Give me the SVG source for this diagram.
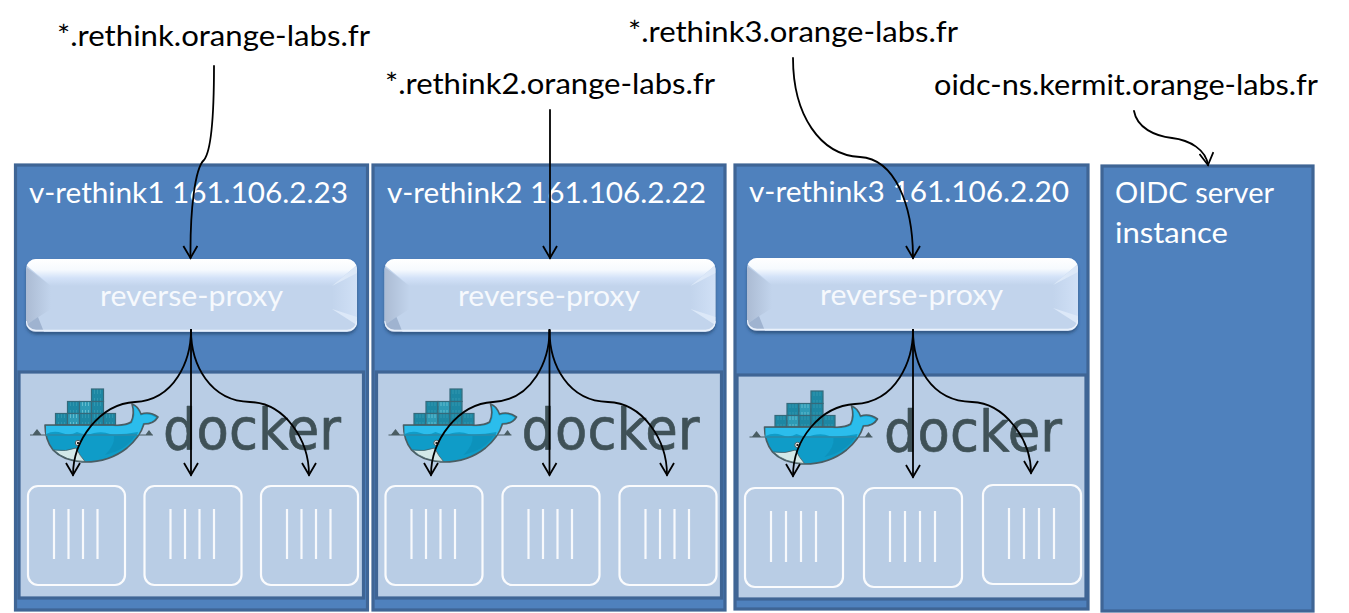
<svg xmlns="http://www.w3.org/2000/svg" width="1349" height="613" viewBox="0 0 1349 613">
<style>
text{font-family:Lato,"Open Sans","Liberation Sans",sans-serif}
.lbl{font-size:29px;fill:#000}
.ttl{font-size:29px;fill:#fff}
.rp{font-size:29px;fill:#f6f9fd}
.panel{fill:#4f81bd;stroke:#3f6595;stroke-width:3.2}
.inner{fill:#b9cde5;stroke:#3f6595;stroke-width:3.2}
.box{fill:none;stroke:#fff;stroke-width:2.2;opacity:.92}
.bar{stroke:#fff;stroke-width:2.2;opacity:.88;fill:none}
.wm{font-family:"DejaVu Sans",sans-serif;font-size:57px;fill:#3f5157;stroke:#3f5157;stroke-width:.7;stroke-linejoin:round}
.c{fill:url(#cont);stroke:#35697a;stroke-width:1.2}
.cl{fill:url(#contl);stroke:#35697a;stroke-width:1.2}
.conn{fill:none;stroke:#000;stroke-width:1.8;stroke-linecap:round}
</style>
<defs>
<pattern id="cont" width="3" height="12" patternUnits="userSpaceOnUse"><rect width="3" height="12" fill="#1d87a3"/><rect x="1" y="2" width="1" height="8" fill="#3096ae"/></pattern>
<pattern id="contl" width="3" height="12" patternUnits="userSpaceOnUse"><rect width="3" height="12" fill="#2e9bb6"/><rect x="1" y="2" width="1" height="8" fill="#62bccf"/></pattern>
<linearGradient id="top" x1="0" y1="0" x2="0" y2="1"><stop offset="0" stop-color="#fff"/><stop offset=".4" stop-color="#f6fafe"/><stop offset=".7" stop-color="#d3e2f8"/><stop offset="1" stop-color="#c2d4ec"/></linearGradient>
<linearGradient id="lft" x1="0" y1="0" x2="1" y2="0"><stop offset="0" stop-color="#abbbd3"/><stop offset="1" stop-color="#c2d4ec"/></linearGradient>
<linearGradient id="rgt" x1="0" y1="0" x2="1" y2="0"><stop offset="0" stop-color="#c2d4ec"/><stop offset="1" stop-color="#d0e0f6"/></linearGradient>
<filter id="sh" x="-3%" y="-10%" width="106%" height="125%"><feDropShadow dx="0" dy="2.500" stdDeviation="1.600" flood-color="#1f3a60" flood-opacity=".6"/></filter>
<clipPath id="bclip"><rect width="331" height="73" rx="10"/></clipPath>
<marker id="arr" viewBox="0 0 16 16" refX="14" refY="8" markerWidth="16" markerHeight="16" markerUnits="userSpaceOnUse" orient="auto"><path d="M2,1 L14,8 L2,15" fill="none" stroke="#000" stroke-width="1.8"/></marker>
<g id="button">
<rect width="331" height="73" rx="10" fill="#c2d4ec" filter="url(#sh)"/>
<g clip-path="url(#bclip)">
<path d="M0,8L25,27V50L0,66Z" fill="url(#lft)"/>
<path d="M331,8L306,27V50L331,66Z" fill="url(#rgt)"/>
<path d="M0,0H331V6L306,27H25L0,6Z" fill="url(#top)"/>
<path d="M331,6L306,27L331,14Z" fill="#dce8f8"/>
<path d="M331,66L306,50L331,58Z" fill="#dce8f8"/>
<path d="M0,66L12,58L18,73H0Z" fill="#9fb3d0"/>
<path d="M0,62Q1,71 10,71.500H321Q330,71 331,62" fill="none" stroke="#eaf1fb" stroke-width="1.600"/>
</g>
</g>
<g id="whale">
<path d="M30,435H46M139,435H153M33,435L37,430L41,435M146,435L149,431L152,435" fill="#4a5d63" stroke="#4a5d63" stroke-width="1.200"/>
<rect class="c" x="91.500" y="389" width="12" height="12.500"/>
<rect class="c" x="67.500" y="401.500" width="12" height="12"/><rect class="cl" x="79.500" y="401.500" width="12" height="12"/><rect class="c" x="91.500" y="401.500" width="12" height="12"/>
<rect class="c" x="55.500" y="413.500" width="12" height="11.500"/><rect class="cl" x="67.500" y="413.500" width="12" height="11.500"/><rect class="c" x="79.500" y="413.500" width="12" height="11.500"/><rect class="c" x="91.500" y="413.500" width="12" height="11.500"/><rect class="c" x="103.500" y="413.500" width="12" height="11.500"/>
<path d="M45,425H113Q125,426 131,422Q135,414 132,404Q138,406 141,414Q150,411 158,417Q154,424 144,424Q140,437 127,448Q108,463 82,462Q62,460 53,450Q45,440 45,425Z" fill="#0f9cc8" stroke="#4a5d63" stroke-width="1.600" stroke-linejoin="round"/>
<path d="M46,426H113Q125,427 132,423Q136,415 133.500,406Q138,408 140.500,415.500Q149,412.500 156,417.500Q153,423 143,423Q141,430 138,435H46Z" fill="#2bbdec"/>
<path d="M46,434Q54,430 62,433Q70,436 77,432Q86,436 94,433Q103,431 110,434Q122,435 138,432L137,436H46Z" fill="#0f9cc8"/>
<path d="M46,435H137" fill="none" stroke="#3a7f96" stroke-width="1"/>
<path d="M66,436H135Q126,450 105,455Q115,445 114,436Z" fill="#0b8ab3" opacity=".55"/>
<path d="M54,450Q66,452 76,448Q80,456 85,461.500Q65,461 54,450Z" fill="#d3e8e8" stroke="#4a5d63" stroke-width=".8"/>
<circle cx="78" cy="443" r="2.700" fill="#fff" stroke="#4a5d63" stroke-width="1"/><circle cx="78" cy="443" r="1.200" fill="#222"/>
</g>
</defs>

<g id="panel1">
<rect class="panel" x="15.500" y="165" width="352" height="445"/>
<rect class="inner" x="19" y="372" width="344.500" height="226"/>
<text class="ttl" x="29" y="203" textLength="319" lengthAdjust="spacingAndGlyphs">v-rethink1 161.106.2.23</text>
<use href="#button" x="26" y="259"/>
<text class="rp" x="100" y="306" textLength="183" lengthAdjust="spacingAndGlyphs">reverse-proxy</text>
<use href="#whale"/>
<text class="wm" x="163" y="449" textLength="178" lengthAdjust="spacingAndGlyphs">docker</text>
<rect class="box" x="28" y="486" width="97" height="99" rx="10"/>
<path class="bar" d="M54,509V559M68.500,509V559M83,509V559M97.500,509V559"/>
<rect class="box" x="144.500" y="486" width="97" height="99" rx="10"/>
<path class="bar" d="M170.500,509V559M185,509V559M199.500,509V559M214,509V559"/>
<rect class="box" x="261" y="486" width="97" height="99" rx="10"/>
<path class="bar" d="M287,509V559M301.500,509V559M316,509V559M330.500,509V559"/>
</g>

<g id="panel2">
<rect class="panel" x="373" y="165" width="352" height="445"/>
<rect class="inner" x="376.500" y="372" width="345" height="226"/>
<text class="ttl" x="387" y="203" textLength="319" lengthAdjust="spacingAndGlyphs">v-rethink2 161.106.2.22</text>
<use href="#button" x="384.500" y="259"/>
<text class="rp" x="458" y="306" textLength="182" lengthAdjust="spacingAndGlyphs">reverse-proxy</text>
<use href="#whale" x="358.500"/>
<text class="wm" x="521.500" y="449" textLength="178" lengthAdjust="spacingAndGlyphs">docker</text>
<rect class="box" x="385.500" y="486" width="97" height="99" rx="10"/>
<path class="bar" d="M411.500,509V559M426,509V559M440.500,509V559M455,509V559"/>
<rect class="box" x="502.500" y="486" width="97" height="99" rx="10"/>
<path class="bar" d="M528.500,509V559M543,509V559M557.500,509V559M572,509V559"/>
<rect class="box" x="619.500" y="486" width="97" height="99" rx="10"/>
<path class="bar" d="M645.500,509V559M660,509V559M674.500,509V559M689,509V559"/>
</g>

<g id="panel3">
<rect class="panel" x="735" y="165" width="353" height="444"/>
<rect class="inner" x="737" y="375" width="349" height="224"/>
<text class="ttl" x="749" y="202" textLength="320" lengthAdjust="spacingAndGlyphs">v-rethink3 161.106.2.20</text>
<use href="#button" x="747" y="258"/>
<text class="rp" x="820" y="305" textLength="183" lengthAdjust="spacingAndGlyphs">reverse-proxy</text>
<use href="#whale" x="719.500" y="2"/>
<text class="wm" x="884" y="451" textLength="178" lengthAdjust="spacingAndGlyphs">docker</text>
<rect class="box" x="745" y="488" width="98" height="99" rx="10"/>
<path class="bar" d="M771,511V562M786,511V562M801,511V562M816,511V562"/>
<rect class="box" x="864" y="488" width="98" height="99" rx="10"/>
<path class="bar" d="M890,511V562M905,511V562M920,511V562M935,511V562"/>
<rect class="box" x="983" y="485" width="98" height="99" rx="10"/>
<path class="bar" d="M1009,508V559M1024,508V559M1039,508V559M1054,508V559"/>
</g>

<g id="panel4">
<rect class="panel" x="1102" y="166" width="211" height="445"/>
<text class="ttl" x="1115" y="203" textLength="159" lengthAdjust="spacingAndGlyphs">OIDC server</text>
<text class="ttl" x="1115" y="243" textLength="113" lengthAdjust="spacingAndGlyphs">instance</text>
</g>

<g id="labels">
<text class="lbl" x="57" y="46" textLength="313" lengthAdjust="spacingAndGlyphs">*.rethink.orange-labs.fr</text>
<text class="lbl" x="385" y="94" textLength="330" lengthAdjust="spacingAndGlyphs">*.rethink2.orange-labs.fr</text>
<text class="lbl" x="628" y="42" textLength="330" lengthAdjust="spacingAndGlyphs">*.rethink3.orange-labs.fr</text>
<text class="lbl" x="934" y="95" textLength="384" lengthAdjust="spacingAndGlyphs">oidc-ns.kermit.orange-labs.fr</text>
</g>

<g id="connectors" class="conn">
<path marker-end="url(#arr)" d="M214,66C214,110 212,150 204,160C195,168 190,210 190.500,258"/>
<path marker-end="url(#arr)" d="M550,110V258"/>
<path marker-end="url(#arr)" d="M793,58C793,115 820,155 860,157C895,159 913,205 913,258"/>
<path marker-end="url(#arr)" d="M1134,111C1137,128 1155,136 1172,138C1190,140 1206,150 1208,165"/>
<path marker-end="url(#arr)" d="M191,330C191,360 175,400 135,402C100,404 73,440 73,475"/>
<path marker-end="url(#arr)" d="M191,330V475"/>
<path marker-end="url(#arr)" d="M191,330C191,365 210,401 250,402C285,403 309,440 309,475"/>
<path marker-end="url(#arr)" d="M549.500,330C549.500,360 533,400 493,402C458,404 431,440 431,475"/>
<path marker-end="url(#arr)" d="M549.500,330V475"/>
<path marker-end="url(#arr)" d="M549.500,330C549.500,365 568,401 608,402C643,403 667,440 667,475"/>
<path marker-end="url(#arr)" d="M913,330C913,360 897,402 855,404C820,406 793,440 793,476"/>
<path marker-end="url(#arr)" d="M913,330V477"/>
<path marker-end="url(#arr)" d="M913,330C913,365 930,401 972,402C1005,403 1031,440 1031,473"/>
</g>
</svg>
